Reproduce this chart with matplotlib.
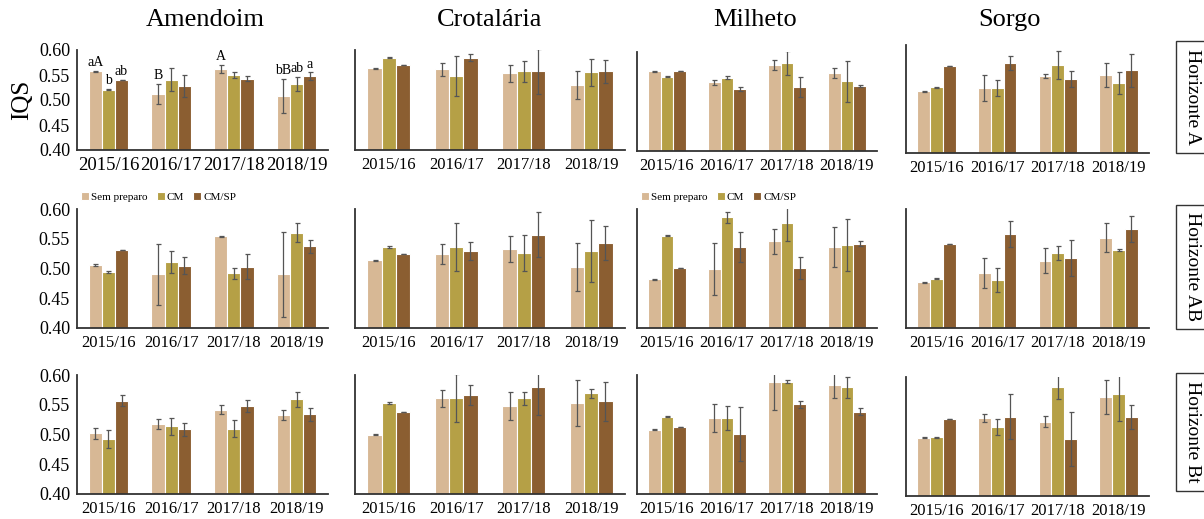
import numpy as np
import matplotlib
matplotlib.use('Agg')
import matplotlib.pyplot as plt

plt.rcParams['font.family'] = ['Liberation Serif', 'DejaVu Serif']

years = ['2015/16', '2016/17', '2017/18', '2018/19']
treatments = ['Sem preparo', 'CM', 'CM/SP']
crops = ['Amendoim', 'Crotalária', 'Milheto', 'Sorgo']
horizons = ['Horizonte A', 'Horizonte AB', 'Horizonte Bt']
colors = ['#d7b895', '#b5a046', '#8b5e31']

# means per treatment (rows: Sem preparo, CM, CM/SP) across years
amendoim_A = [[0.557, 0.513, 0.563, 0.508], [0.521, 0.541, 0.550, 0.533], [0.541, 0.528, 0.543, 0.548]]
amendoim_A_err = [[0.001, 0.020, 0.008, 0.034], [0.001, 0.022, 0.005, 0.014], [0.0, 0.022, 0.005, 0.007]]
crotalaria_A = [[0.564, 0.561, 0.553, 0.530], [0.585, 0.548, 0.557, 0.555], [0.570, 0.585, 0.557, 0.557]]
crotalaria_A_err = [[0.001, 0.012, 0.016, 0.027], [0.001, 0.040, 0.020, 0.026], [0.0, 0.007, 0.045, 0.023]]
milheto_A = [[0.561, 0.539, 0.574, 0.558], [0.550, 0.548, 0.578, 0.541], [0.562, 0.526, 0.530, 0.532]]
milheto_A_err = [[0.001, 0.005, 0.010, 0.010], [0.001, 0.003, 0.025, 0.041], [0.0, 0.004, 0.020, 0.002]]
sorgo_A = [[0.514, 0.520, 0.543, 0.545], [0.522, 0.520, 0.563, 0.530], [0.561, 0.567, 0.537, 0.553]]
sorgo_A_err = [[0.001, 0.024, 0.004, 0.022], [0.001, 0.015, 0.026, 0.020], [0.0, 0.013, 0.014, 0.030]]

amendoim_AB = [[0.506, 0.490, 0.554, 0.490], [0.494, 0.511, 0.492, 0.560], [0.531, 0.505, 0.503, 0.537]]
amendoim_AB_err = [[0.001, 0.052, 0.001, 0.071], [0.001, 0.018, 0.009, 0.016], [0.0, 0.014, 0.021, 0.011]]
crotalaria_AB = [[0.514, 0.524, 0.533, 0.503], [0.536, 0.536, 0.526, 0.530], [0.524, 0.529, 0.557, 0.543]]
crotalaria_AB_err = [[0.001, 0.017, 0.022, 0.040], [0.001, 0.041, 0.030, 0.052], [0.0, 0.015, 0.038, 0.028]]
milheto_AB = [[0.482, 0.499, 0.546, 0.536], [0.555, 0.586, 0.577, 0.540], [0.501, 0.536, 0.501, 0.542]]
milheto_AB_err = [[0.001, 0.044, 0.021, 0.034], [0.001, 0.009, 0.030, 0.044], [0.0, 0.025, 0.019, 0.005]]
sorgo_AB = [[0.477, 0.492, 0.513, 0.552], [0.483, 0.480, 0.526, 0.531], [0.542, 0.558, 0.518, 0.566]]
sorgo_AB_err = [[0.001, 0.025, 0.021, 0.025], [0.001, 0.020, 0.012, 0.002], [0.0, 0.022, 0.030, 0.022]]

amendoim_Bt = [[0.502, 0.518, 0.542, 0.533], [0.493, 0.514, 0.510, 0.559], [0.557, 0.509, 0.548, 0.534]]
amendoim_Bt_err = [[0.009, 0.008, 0.008, 0.008], [0.015, 0.014, 0.015, 0.013], [0.009, 0.011, 0.010, 0.011]]
crotalaria_Bt = [[0.500, 0.561, 0.548, 0.553], [0.553, 0.561, 0.561, 0.569], [0.537, 0.567, 0.580, 0.556]]
crotalaria_Bt_err = [[0.001, 0.014, 0.024, 0.039], [0.001, 0.040, 0.011, 0.007], [0.0, 0.017, 0.048, 0.033]]
milheto_Bt = [[0.508, 0.528, 0.589, 0.584], [0.530, 0.528, 0.589, 0.579], [0.513, 0.501, 0.551, 0.538]]
milheto_Bt_err = [[0.001, 0.024, 0.047, 0.022], [0.001, 0.020, 0.003, 0.018], [0.0, 0.045, 0.006, 0.006]]
sorgo_Bt = [[0.498, 0.531, 0.525, 0.566], [0.499, 0.516, 0.583, 0.572], [0.529, 0.533, 0.496, 0.533]]
sorgo_Bt_err = [[0.001, 0.006, 0.009, 0.029], [0.001, 0.013, 0.020, 0.046], [0.0, 0.038, 0.046, 0.020]]

# significance letters, Amendoim / Horizonte A
letters_amendoim_A = [['aA', 'B', 'A', 'bB'], ['b', '', '', 'ab'], ['ab', '', '', 'a']]

panels = [
    [(amendoim_A, amendoim_A_err), (crotalaria_A, crotalaria_A_err),
     (milheto_A, milheto_A_err), (sorgo_A, sorgo_A_err)],
    [(amendoim_AB, amendoim_AB_err), (crotalaria_AB, crotalaria_AB_err),
     (milheto_AB, milheto_AB_err), (sorgo_AB, sorgo_AB_err)],
    [(amendoim_Bt, amendoim_Bt_err), (crotalaria_Bt, crotalaria_Bt_err),
     (milheto_Bt, milheto_Bt_err), (sorgo_Bt, sorgo_Bt_err)],
]

W, H = 1204, 519
fig = plt.figure(figsize=(W / 100, H / 100), dpi=100)

# pixel boxes (left, right) per column and (top, bottom) per row/column
col_x = [(77, 328), (355, 625), (637, 877), (906, 1149)]
row_y = [
    [(50, 150), (50, 150), (52, 151), (45, 153)],
    [(209, 328), (209, 328), (209, 328), (209, 328)],
    [(375, 494), (375, 494), (375, 494), (377, 496)],
]


def px_rect(l, r, t, b):
    return [l / W, 1 - b / H, (r - l) / W, (b - t) / H]


x = np.arange(len(years))
w = 0.21
for i in range(3):
    for j in range(4):
        means, errs = panels[i][j]
        ax = fig.add_axes(px_rect(col_x[j][0], col_x[j][1], row_y[i][j][0], row_y[i][j][1]))
        for k in range(3):
            ax.bar(x + (k - 1) * w, means[k], width=w, color=colors[k],
                   edgecolor='white', linewidth=0.8, zorder=2, label=treatments[k])
            ax.errorbar(x + (k - 1) * w, means[k], yerr=errs[k], fmt='none',
                        ecolor='#555555', elinewidth=0.9, capsize=1.8, capthick=0.9, zorder=3)
        ax.set_ylim(0.40, 0.60)
        ax.set_xlim(-0.5, 3.5)
        ax.set_xticks(x)
        ax.set_xticklabels(years, fontsize=13.5 if (i == 0 and j == 0) else 12)
        ax.tick_params(axis='both', length=0, pad=5)
        if j == 0:
            ax.set_yticks([0.40, 0.45, 0.50, 0.55, 0.60])
            ax.set_yticklabels(['0.40', '0.45', '0.50', '0.55', '0.60'], fontsize=13)
        else:
            ax.set_yticks([])
        for s in ['top', 'right']:
            ax.spines[s].set_visible(False)
        for s in ['left', 'bottom']:
            ax.spines[s].set_color('#333333')
            ax.spines[s].set_linewidth(1.3)

        if i == 0 and j == 0:
            ax.set_ylabel('IQS', fontsize=18, labelpad=4)
            for k in range(3):
                for g in range(4):
                    lab = letters_amendoim_A[k][g]
                    if lab:
                        ax.text(x[g] + (k - 1) * w, means[k][g] + errs[k][g] + 0.003, lab,
                                ha='center', va='bottom', fontsize=10)
        if i == 1 and j in (0, 2):
            ax.legend(loc='lower left', bbox_to_anchor=(0.0, 1.02), ncol=3, frameon=False,
                      fontsize=8, handlelength=0.7, handleheight=0.7, handletextpad=0.2,
                      columnspacing=0.8, borderaxespad=0)

# column titles
title_x = [205, 490, 755, 1010]
for j in range(4):
    fig.text(title_x[j] / W, 1 - 20 / H, crops[j], ha='center', va='center', fontsize=19)

# horizon labels in boxes on the right
hz_y = [97, 267, 432]
for i in range(3):
    fig.text(1192 / W, 1 - hz_y[i] / H, horizons[i], rotation=270, ha='center', va='center',
             fontsize=14, bbox=dict(boxstyle='square,pad=0.4', fc='white', ec='#333333', lw=1))

fig.savefig('out.png', dpi=100)
